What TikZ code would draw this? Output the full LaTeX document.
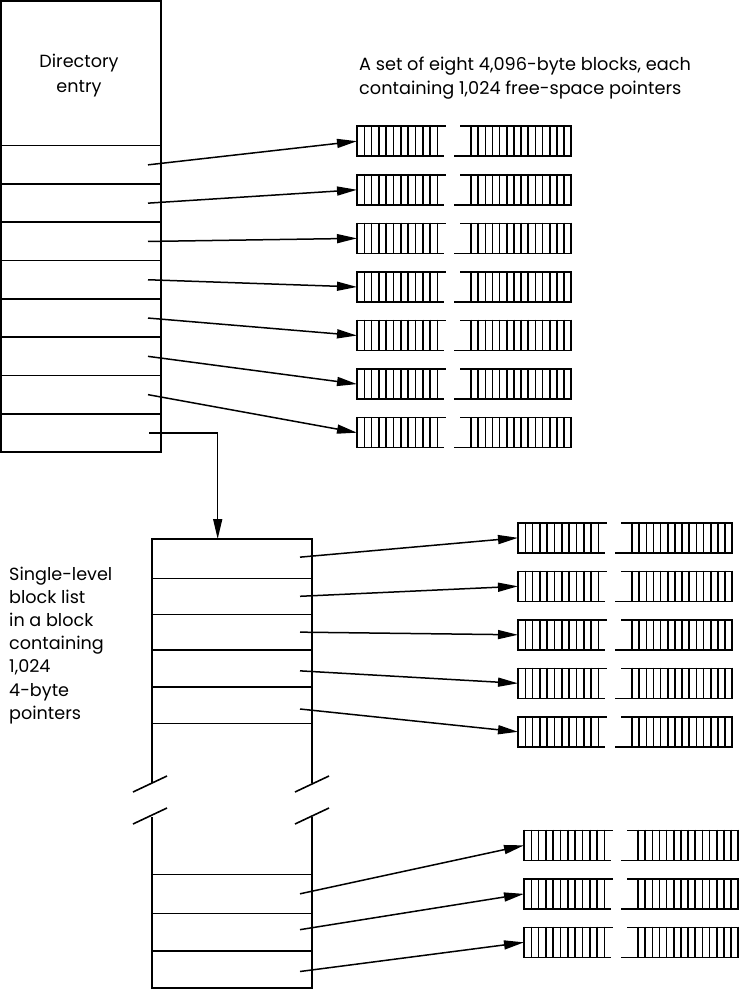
\documentclass[tikz,border=0pt]{standalone}
\usepackage{fontspec}
\newfontfamily\lblfont{Poppins}
\usetikzlibrary{arrows.meta}

\tikzset{
  line/.style={line width=1.6pt, line cap=butt},
  cell/.style={draw, line width=1.6pt, minimum width=160pt, inner sep=0pt, outer sep=0pt},
  arrow/.style={line width=1.5pt, -{Triangle[length=20pt,width=9pt]}},
  lbl/.style={inner sep=0pt, font=\lblfont\fontsize{17.7pt}{24pt}\selectfont, align=left},
  blk/.style={line width=1.6pt, line cap=butt},
  % one 4,096-byte block of free-space pointers, broken in the middle
  freeblock/.pic={
    \coordinate (-w) at (0,0);
    \draw[blk] (0,-15)--(89,-15) (0,15)--(87,15);
    \foreach \i in {0,...,11} \draw[blk] (\i*7.3,-15.8)--(\i*7.3,15.8);
    \draw[blk] (103,-15)--(214.5,-15) (97,15)--(214.5,15);
    \foreach \i in {0,...,14} \draw[blk] (114+\i*7.16,-15.8)--(114+\i*7.16,15.8);
  }
}

\begin{document}
\begin{tikzpicture}[x=1pt,y=-1pt]
\useasboundingbox (0,0) rectangle (740,992);

% directory entry
\node[cell, minimum height=144.7pt] (dir) at (81,73.35) {};
\node[inner sep=0pt, font=\lblfont\fontsize{17.6pt}{25pt}\selectfont, align=center] (dirlabel) at (79,75.5) {Directory\\entry};
\foreach \k in {1,...,8}
  \node[cell, minimum height=38.3pt] (d\k) at (81,{145.7+38.3*(\k-0.5)}) {};

% first set of blocks
\node[lbl, anchor=base west] (toptext) at (359,95) {A set of eight 4,096-byte blocks, each\\containing 1,024 free-space pointers};
\foreach \k in {1,...,7}
  \pic (t\k) at (357,{141.2+48.58*(\k-1)}) {freeblock};

\foreach \k in {1,...,7}
  \draw[arrow] ([xshift=-13pt]d\k.east) -- (t\k-w);

% single-level block list
\node[cell, minimum height=39.3pt] (l1) at (232,558.65) {};
\node[cell, minimum height=36pt]   (l2) at (232,596.3) {};
\node[cell, minimum height=35.7pt] (l3) at (232,632.15) {};
\node[cell, minimum height=36.7pt] (l4) at (232,668.35) {};
\node[cell, minimum height=36.6pt] (l5) at (232,705) {};
\node[cell, minimum height=39pt]   (l6) at (232,893.8) {};
\node[cell, minimum height=37.7pt] (l7) at (232,932.15) {};
\node[cell, minimum height=37pt]   (l8) at (232,969.5) {};

% open sides with break marks
\draw[line] (l5.south west) -- ++(0,60) (l6.north west) -- ++(0,-57);
\draw[line] (l5.south east) -- ++(0,60) (l6.north east) -- ++(0,-57);
\draw[line] (133,792) -- (167,776) (133,824) -- (167,808);
\draw[line] (295,792) -- (329,776) (295,824) -- (329,808);

\node[lbl, anchor=base west, font=\lblfont\fontsize{17.6pt}{23.2pt}\selectfont] (sltext) at (9,719.2)
  {Single-level\\block list\\in a block\\containing\\1,024\\4-byte\\pointers};

\draw[arrow] ([xshift=-12pt]d8.east) -| ([xshift=-14.3pt]l1.north);

% second and third sets of blocks
\foreach \k in {1,...,5}
  \pic (u\k) at (518,{537.8+48.5*(\k-1)}) {freeblock};
\foreach \k in {1,...,3}
  \pic (v\k) at (524,{845.35+48.5*(\k-1)}) {freeblock};

\draw[arrow] ([xshift=-12pt,yshift=1.5pt]l1.east) -- (u1-w);
\draw[arrow] ([xshift=-12pt]l2.east) -- (u2-w);
\draw[arrow] ([xshift=-12pt]l3.east) -- (u3-w);
\draw[arrow] ([xshift=-12pt,yshift=-2.5pt]l4.east) -- (u4-w);
\draw[arrow] ([xshift=-12pt,yshift=-4pt]l5.east) -- (u5-w);
\draw[arrow] ([xshift=-12pt]l6.east) -- (v1-w);
\draw[arrow] ([xshift=-12pt,yshift=2.5pt]l7.east) -- (v2-w);
\draw[arrow] ([xshift=-12pt,yshift=-2pt]l8.east) -- (v3-w);
\end{tikzpicture}
\end{document}
